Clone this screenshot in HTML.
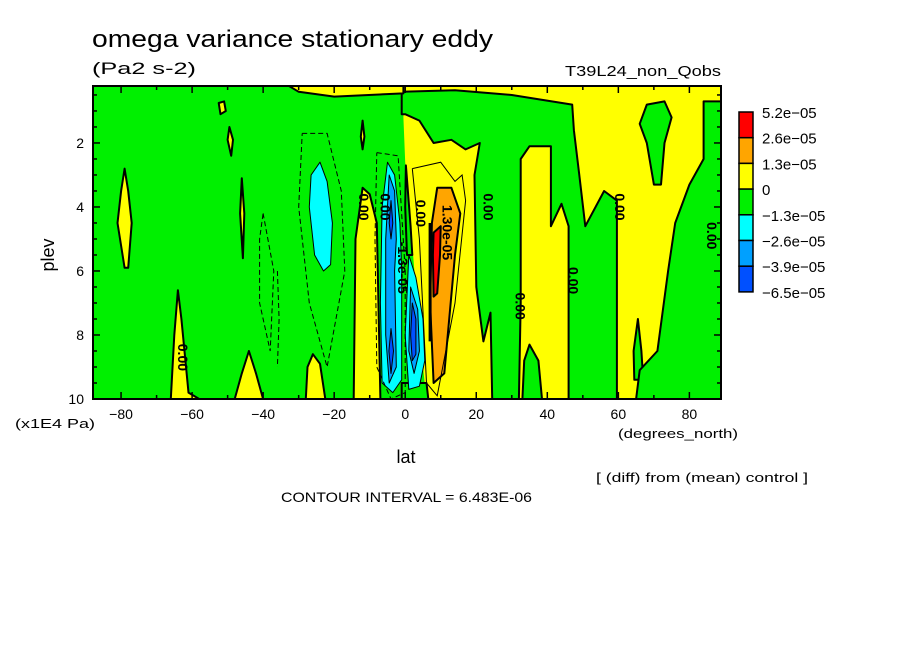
<!DOCTYPE html>
<html><head><meta charset="utf-8">
<style>
body{margin:0;background:#fff;}
svg{display:block;font-family:"Liberation Sans",sans-serif;}
</style></head>
<body>
<svg id="chart" width="904" height="654" viewBox="0 0 904 654">
<rect width="904" height="654" fill="#fff"/>
<text x="92" y="47" font-size="24" textLength="401" lengthAdjust="spacingAndGlyphs">omega variance stationary eddy</text>
<text x="92" y="74" font-size="17" textLength="104" lengthAdjust="spacingAndGlyphs">(Pa2 s-2)</text>
<text x="565" y="76" font-size="15" textLength="156" lengthAdjust="spacingAndGlyphs">T39L24_non_Qobs</text>
<g id="plot"></g>
<g id="axes"></g>
<g id="cbar"></g>
<text x="54" y="255" font-size="18" text-anchor="middle" transform="rotate(-90 54 255)">plev</text>
<text x="406" y="463" font-size="18" text-anchor="middle">lat</text>
<text x="15" y="428" font-size="13" textLength="80" lengthAdjust="spacingAndGlyphs">(x1E4 Pa)</text>
<text x="618" y="438" font-size="13" textLength="120" lengthAdjust="spacingAndGlyphs">(degrees_north)</text>
<text x="596" y="482" font-size="13" textLength="212" lengthAdjust="spacingAndGlyphs">[ (diff) from (mean) control ]</text>
<text x="281" y="502" font-size="14" textLength="251" lengthAdjust="spacingAndGlyphs">CONTOUR INTERVAL = 6.483E-06</text>
</svg>
<script>
// ----- data (values in units of 1e-5 Pa2 s-2) -----
const levelBounds = [5.2, 2.6, 1.3, 0, -1.3, -2.6, -3.9, -6.5];
const levelLabels = ["5.2e-05","2.6e-05","1.3e-05","0","-1.3e-05","-2.6e-05","-3.9e-05","-6.5e-05"];
const levelColors = ["#ff0000","#ffa500","#ffff00","#00f000","#00ffff","#00a0ff","#0050ff"];
const xTicks = [-80,-60,-40,-20,0,20,40,60,80];
const yTicks = [2,4,6,8,10];
// filled regions: polygon outlines in (lat, plev) and the field value inside
const regionValues = [-0.5, 0.5, -0.5,-0.5,-0.5,-0.5,-0.5,-0.5,-0.5,
  0.5,0.5,0.5,0.5,0.5,0.5,0.5,0.5,0.5,0.5,
  -2,-2,-3.2,-5,-5,-2,-3.2,-5, 2, 4];
const regionPolys = [
 [[-88,0.2],[89,0.2],[89,10],[-88,10]],
 [[-0.5,0.2],[89,0.2],[89,10],[6,10],[4,8],[1.5,4.5],[0,2.6],[-0.5,1.2]],
 [[-1,0.4],[14,0.35],[30,0.5],[47,0.8],[47.5,1.6],[49,3],[50.7,4.6],[56,3.5],[59.6,3.8],[59.6,10],[46,10],[46,4.6],[44,3.9],[41,4.6],[41,2.1],[35,2.1],[32.5,2.5],[32.5,7],[32,10],[24.5,10],[24,7.3],[22,8.2],[20,6.5],[19.5,3],[21,2],[17,2.2],[13,1.9],[8,2.0],[4,1.3],[0,1.1],[-1,1.1]],
 [[33,10],[33.5,8.8],[35,8.3],[37.5,8.8],[38.5,10]],
 [[66,1.4],[68,0.8],[73,0.7],[75,1.2],[73,2.0],[72,3.3],[70,3.3],[68,2.0]],
 [[65.5,7.5],[66.5,8.5],[67,9.4],[64.5,9.4],[64.3,8.5]],
 [[84,0.7],[89,0.7],[89,10],[65,10],[66,9.1],[71,8.5],[74,6.0],[76,4.5],[80,3.3],[84,2.5]],
 [[-1,9.5],[6,9.5],[6.5,10],[-1,10]],
 [[0.2,2.7],[1.5,4.6],[2,5.5],[0.5,5.5],[0,4]],
 [[-79,2.8],[-78,3.5],[-77,4.5],[-78,5.9],[-79,5.9],[-81,4.5],[-80,3.5]],
 [[-52.5,0.75],[-51,0.7],[-50.5,1.0],[-52,1.1]],
 [[-49.5,1.5],[-48.5,1.9],[-49,2.4],[-50,1.9]],
 [[-46,3.1],[-45.3,4.2],[-45.7,5.6],[-46.5,4.2]],
 [[-64,6.6],[-63,7.5],[-61,9.8],[-58,10],[-66,10],[-65,8]],
 [[-44,8.5],[-42,9.2],[-40,10],[-48,10],[-46,9.2]],
 [[-26,8.6],[-24,8.9],[-22.5,10],[-28,10],[-27.5,9]],
 [[-33,0.2],[-0.5,0.2],[-0.5,0.45],[-20,0.55],[-30,0.4]],
 [[-12,1.3],[-11.5,1.8],[-12,2.2],[-12.5,1.8]],
 [[-14.5,10],[-14,5],[-12,3.4],[-10,3.6],[-8,4.5],[-7,10]],
 [[-5,2.6],[-3,3],[-1.5,4.5],[-1,6],[-1,9.4],[-3.5,9.8],[-6.5,9.5],[-7,7],[-6.5,4]],
 [[-24,2.6],[-22,3.2],[-20.5,4.5],[-21,5.8],[-23,6.0],[-25.5,5.5],[-27,4],[-26.5,3]],
 [[-4.5,3],[-3,3.5],[-2.5,5],[-3,6],[-2.5,9],[-4.5,9.5],[-5.5,8],[-5.5,5]],
 [[-4,3.8],[-3.5,4.5],[-4,5],[-4.5,4.5]],
 [[-4,7.8],[-3.3,8.5],[-4,9.2],[-4.6,8.5]],
 [[1,5.5],[3,6.2],[5,7.5],[5.5,8.8],[4,9.6],[1,9.7],[0,8]],
 [[1.5,6.5],[3.5,7.2],[4,8.5],[2.5,9.2],[1,8.5]],
 [[2,7],[3,7.5],[3,8.6],[2,8.8],[1.5,8]],
 [[9,3.4],[13,3.4],[15.5,4.2],[14,5.5],[11,9.2],[8,9.5],[7,7],[7.5,4.5]],
 [[8,4.8],[10,4.6],[9.8,5.5],[9,6.7],[8,6.8],[7.8,5.5]]
];
// dashed (negative) and thin solid contour lines
const dashedLines = [
 [[-29,1.7],[-22,1.7],[-18,3.5],[-17,6],[-22,9],[-27,7],[-30,4],[-29,1.7]],
 [[-40,4.2],[-37,6],[-38,8.5],[-41,7],[-41,5],[-40,4.2]],
 [[-36,6],[-35.5,7.5],[-36,9]],
 [[-8,2.3],[-2,2.4],[0,6],[0,9.8],[-4,10],[-8,9],[-8.5,5],[-8,2.3]]
];
const solidLines = [
 [[2,2.8],[10,2.6],[14,3.2],[16,3.0],[17,3.8],[14,7],[9,9.9],[6,9.5],[4,5],[2,2.8]],
 [[7,4.5],[7,8.2]]
];
const contourLabels = [[-13,4,"0.00"],[-64,8.7,"0.00"],[-7,4,"0.00"],[3,4.2,"0.00"],[10.5,4.8,"1.30e-05"],[22,4,"0.00"],[31,7.1,"0.00"],[46,6.3,"0.00"],[59,4,"0.00"],[85,4.9,"0.00"],[-2,5.9,"-1.3e-05"]];

// ----- axis functions -----
const X0=93, X1=721, Y0=86, Y1=399;
const LAT0=-87.9, LAT1=88.9, P0=0.22, P1=10;
const xs = lat => X0 + (lat-LAT0)/(LAT1-LAT0)*(X1-X0);
const ys = p => Y0 + (p-P0)/(P1-P0)*(Y1-Y0);
function colorFor(v){
  for(let i=0;i<levelBounds.length-1;i++){ if(v<=levelBounds[i] && v>levelBounds[i+1]) return levelColors[i]; }
  return v>levelBounds[0]?levelColors[0]:levelColors[levelColors.length-1];
}
const NS="http://www.w3.org/2000/svg";
const plot=document.getElementById('plot');
const clip=document.createElementNS(NS,'clipPath'); clip.setAttribute('id','pc');
const cr=document.createElementNS(NS,'rect');
cr.setAttribute('x',X0);cr.setAttribute('y',Y0);cr.setAttribute('width',X1-X0);cr.setAttribute('height',Y1-Y0);
clip.appendChild(cr); document.getElementById('chart').appendChild(clip);
plot.setAttribute('clip-path','url(#pc)');
const pts = poly => poly.map(q=>xs(q[0]).toFixed(1)+','+ys(q[1]).toFixed(1)).join(' ');
regionPolys.forEach((poly,i)=>{
  const el=document.createElementNS(NS,'polygon');
  el.setAttribute('points',pts(poly));
  el.setAttribute('fill',colorFor(regionValues[i]));
  el.setAttribute('stroke', i<2 ? 'none' : '#000');
  el.setAttribute('stroke-width', regionValues[i]<-1 ? 1 : 2);
  el.setAttribute('stroke-linejoin','round');
  
  
  plot.appendChild(el);
});
dashedLines.forEach((l,i)=>{
  const el=document.createElementNS(NS,'polyline');
  el.setAttribute('points',pts(l)); el.setAttribute('fill','none');
  el.setAttribute('stroke','#000'); el.setAttribute('stroke-width',1); el.setAttribute('stroke-dasharray','5,3');
  
  
  plot.appendChild(el);
});
solidLines.forEach((l,i)=>{
  const el=document.createElementNS(NS,'polyline');
  el.setAttribute('points',pts(l)); el.setAttribute('fill','none');
  el.setAttribute('stroke','#000'); el.setAttribute('stroke-width',i==1?3:1);
  
  
  plot.appendChild(el);
});
contourLabels.forEach(c=>{
  const t=document.createElementNS(NS,'text');
  const x=xs(c[0]), y=ys(c[1]);
  t.setAttribute('x',x);t.setAttribute('y',y);t.setAttribute('font-size',14);t.setAttribute('font-weight','bold');
  t.setAttribute('text-anchor','middle');t.setAttribute('transform','rotate(90 '+x+' '+y+')');
  t.textContent=c[2];
  
  
  plot.appendChild(t);
});
// axes
const ax=document.getElementById('axes');
const frame=document.createElementNS(NS,'rect');
frame.setAttribute('x',X0);frame.setAttribute('y',Y0);frame.setAttribute('width',X1-X0);frame.setAttribute('height',Y1-Y0);
frame.setAttribute('fill','none');frame.setAttribute('stroke','#000');frame.setAttribute('stroke-width',2);


ax.appendChild(frame);
function line(x1,y1,x2,y2,w){const l=document.createElementNS(NS,'line');l.setAttribute('x1',x1);l.setAttribute('y1',y1);l.setAttribute('x2',x2);l.setAttribute('y2',y2);l.setAttribute('stroke','#000');l.setAttribute('stroke-width',w);ax.appendChild(l);return l;}
for(let lat=-80;lat<=80;lat+=10){
  const x=xs(lat), big=lat%20===0?7:4;
  line(x,Y1,x,Y1-big,1.5); line(x,Y0,x,Y0+big,1.5);
}
for(let p=0.5;p<=10;p+=0.5){
  const y=ys(p), big=Number.isInteger(p)&&p%2===0?7:4;
  line(X0,y,X0+big,y,1.5); line(X1,y,X1-big,y,1.5);
}
xTicks.forEach(v=>{
  const t=document.createElementNS(NS,'text');
  t.setAttribute('x',xs(v));t.setAttribute('y',419);t.setAttribute('font-size',14);t.setAttribute('text-anchor','middle');
  t.textContent=String(v).replace('-','\u2212');
  
  
  ax.appendChild(t);
});
yTicks.forEach(v=>{
  const t=document.createElementNS(NS,'text');
  t.setAttribute('x',84);t.setAttribute('y',ys(v)+5);t.setAttribute('font-size',14);t.setAttribute('text-anchor','end');
  t.textContent=v;
  
  
  ax.appendChild(t);
});
// colorbar
const cb=document.getElementById('cbar');
const CB0=112, CBH=25.7;
levelColors.forEach((c,i)=>{
  const r=document.createElementNS(NS,'rect');
  r.setAttribute('x',739);r.setAttribute('y',CB0+i*CBH);r.setAttribute('width',14);r.setAttribute('height',CBH);
  r.setAttribute('fill',c);r.setAttribute('stroke','#000');r.setAttribute('stroke-width',1.5);
  
  
  cb.appendChild(r);
});
levelLabels.forEach((s,i)=>{
  const t=document.createElementNS(NS,'text');
  t.setAttribute('x',762);t.setAttribute('y',CB0+i*CBH+6);t.setAttribute('font-size',15);
  t.textContent=s.replace(/-/g,'\u2212');
  
  
  cb.appendChild(t);
});
</script>
</body></html>
